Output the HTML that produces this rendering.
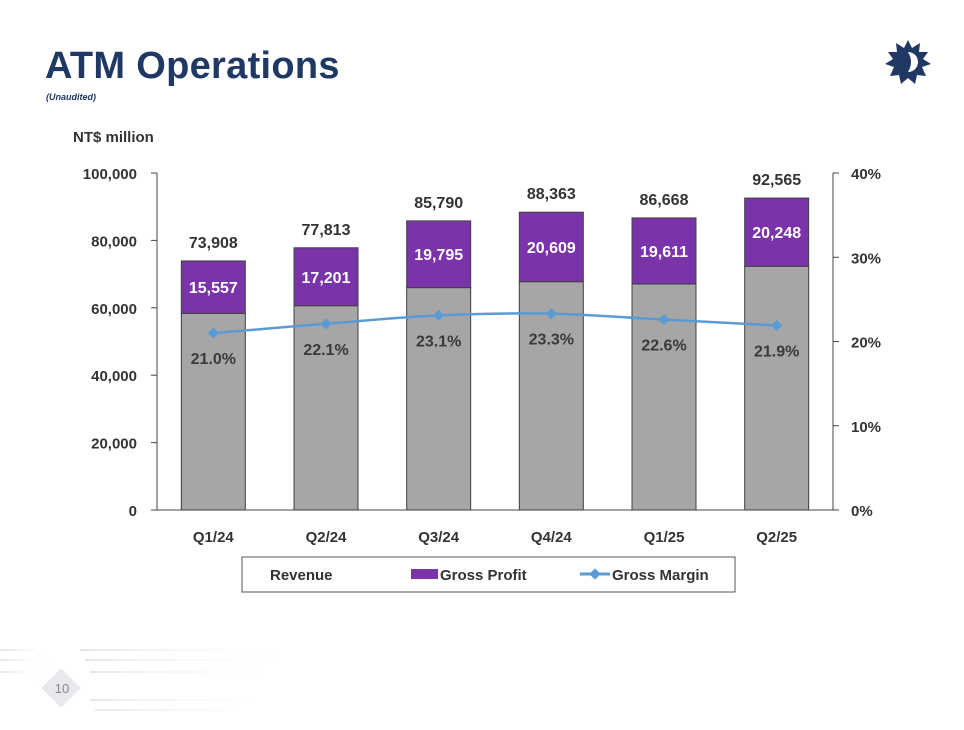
<!DOCTYPE html>
<html><head><meta charset="utf-8"><style>
body{margin:0;width:964px;height:725px;background:#fff;overflow:hidden;font-family:"Liberation Sans",sans-serif;}
svg text{font-family:"Liberation Sans",sans-serif;}
</style></head><body>
<svg id="c" width="964" height="725">
<defs><linearGradient id="fade" x1="0" x2="1"><stop offset="0" stop-color="#e4e6ea"/><stop offset="1" stop-color="#fff" stop-opacity="0"/></linearGradient></defs>
<g stroke="url(#fade)" stroke-width="2" fill="none">
<path d="M0 650 H35 L60 675"/><path d="M0 660 H30 L52 682"/><path d="M0 672 H25 L45 690"/><path d="M80 650 H300 M85 660 H290 M90 672 H260 M90 700 H250 M95 710 H240"/>
</g>
<rect x="47" y="674" width="28" height="28" transform="rotate(45 61 688)" fill="#e8e9ec"/>
<text x="62" y="693" font-size="13" fill="#888" text-anchor="middle">10</text>
<text x="45" y="78" font-size="38" font-weight="bold" fill="#1f3864" letter-spacing="0.3">ATM Operations</text>
<text x="46" y="100" font-size="9" font-style="italic" font-weight="bold" fill="#1f3864">(Unaudited)</text>
<g><polygon fill="#1f3864" points="908,40 912,48 920,43 919,52 928,52 923,59 931,64 922,67 926,76 917,75 915,84 908,78 901,84 899,75 890,76 894,67 885,64 893,59 888,52 897,52 896,43 904,48"/><path d="M908 52 a10 10 0 0 1 0 20 Q914 62 908 52Z" fill="#fff"/></g>
<text x="73" y="142" font-size="15" font-weight="bold" fill="#333">NT$ million</text>
<g id="plot"></g>
<rect x="242" y="557" width="493" height="35" fill="#fff" stroke="#555"/>
<g><text x="270" y="580" font-size="15" font-weight="bold" fill="#333">Revenue</text></g>
<g><rect x="411" y="569" width="27" height="10" fill="#7a33a8"/><text x="440" y="580" font-size="15" font-weight="bold" fill="#333">Gross Profit</text></g>
<g><line x1="580" y1="574" x2="610" y2="574" stroke="#5b9bd5" stroke-width="3"/><rect x="591" y="570" width="8" height="8" transform="rotate(45 595 574)" fill="#5b9bd5"/><text x="612" y="580" font-size="15" font-weight="bold" fill="#333">Gross Margin</text></g>
</svg>
<script>
const categories=["Q1/24","Q2/24","Q3/24","Q4/24","Q1/25","Q2/25"];
const revenue=[73908,77813,85790,88363,86668,92565];
const grossProfit=[15557,17201,19795,20609,19611,20248];
const grossMargin=[21.0,22.1,23.1,23.3,22.6,21.9];
const leftTicks=[0,20000,40000,60000,80000,100000];
const rightTicks=[0,10,20,30,40];
const NS="http://www.w3.org/2000/svg";
const g=document.getElementById('plot');
const X0=157,X1=833,Y0=510,Y1=173;
const xc=i=>X0+(X1-X0)/categories.length*(i+0.5);
const yL=v=>Y0-(Y0-Y1)*v/100000;
const yR=v=>Y0-(Y0-Y1)*v/40;
function el(t,a,txt){const e=document.createElementNS(NS,t);for(const k in a)e.setAttribute(k,a[k]);if(txt!==undefined)e.textContent=txt;g.appendChild(e);return e;}
const fmt=v=>v.toLocaleString('en-US');
let e;
e=el('line',{x1:X0,y1:Y0,x2:X0,y2:Y1,stroke:'#444'});


e=el('line',{x1:X1,y1:Y0,x2:X1,y2:Y1,stroke:'#444'});


e=el('line',{x1:X0,y1:Y0,x2:X1,y2:Y0,stroke:'#444'});


leftTicks.forEach(v=>{el('line',{x1:X0-6,x2:X0,y1:yL(v),y2:yL(v),stroke:'#444'});
e=el('text',{x:X0-20,y:yL(v)+6,'font-size':15,'font-weight':'bold',fill:'#333','text-anchor':'end'},fmt(v));

});
rightTicks.forEach(v=>{el('line',{x1:X1,x2:X1+6,y1:yR(v),y2:yR(v),stroke:'#444'});
e=el('text',{x:X1+18,y:yR(v)+6,'font-size':15,'font-weight':'bold',fill:'#333'},v+'%');

});
const bw=64;
categories.forEach((c,i)=>{const x=xc(i)-bw/2;const cost=revenue[i]-grossProfit[i];
e=el('rect',{x:x,y:yL(cost),width:bw,height:Y0-yL(cost),fill:'#a6a6a6',stroke:'#404040'});


e=el('rect',{x:x,y:yL(revenue[i]),width:bw,height:yL(cost)-yL(revenue[i]),fill:'#7a33a8',stroke:'#404040'});


e=el('text',{x:xc(i),y:(yL(cost)+yL(revenue[i]))/2+6,'font-size':16,'font-weight':'bold',fill:'#fff','text-anchor':'middle'},fmt(grossProfit[i]));


e=el('text',{x:xc(i),y:yL(revenue[i])-13,'font-size':16,'font-weight':'bold',fill:'#333','text-anchor':'middle'},fmt(revenue[i]));


e=el('text',{x:xc(i),y:Y0+32,'font-size':15,'font-weight':'bold',fill:'#333','text-anchor':'middle'},c);


e=el('text',{x:xc(i),y:yR(grossMargin[i])+31,'font-size':16,'font-weight':'bold',fill:'#3a3a3a','text-anchor':'middle'},grossMargin[i].toFixed(1)+'%');

});
const pts=grossMargin.map((v,i)=>[xc(i),yR(v)]);
let d='M'+pts[0].join(' ');
for(let i=0;i<pts.length-1;i++){const p0=pts[Math.max(0,i-1)],p1=pts[i],p2=pts[i+1],p3=pts[Math.min(pts.length-1,i+2)];
d+=` C${p1[0]+(p2[0]-p0[0])/6} ${p1[1]+(p2[1]-p0[1])/6} ${p2[0]-(p3[0]-p1[0])/6} ${p2[1]-(p3[1]-p1[1])/6} ${p2[0]} ${p2[1]}`;}
e=el('path',{d:d,fill:'none',stroke:'#5b9bd5','stroke-width':2.5});


pts.forEach(p=>{e=el('rect',{x:p[0]-4,y:p[1]-4,width:8,height:8,fill:'#5b9bd5',transform:`rotate(45 ${p[0]} ${p[1]})`});

});
</script>
</body></html>
